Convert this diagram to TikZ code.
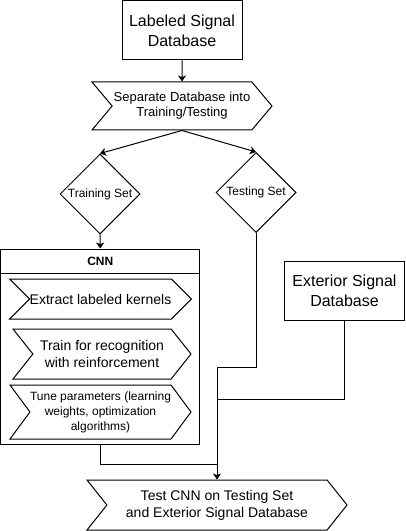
\documentclass[tikz,border=0pt]{standalone}
\usepackage{fontspec}
\setmainfont{Liberation Sans}
\usetikzlibrary{arrows.meta,shapes.geometric,shapes.symbols}

\begin{document}
\begin{tikzpicture}[x=0.75pt,y=0.75pt,yscale=-1,xscale=1,line width=0.75pt,>={Stealth[length=4.5pt,width=6pt,inset=1.2pt]},
  dbbox/.style={draw,rectangle,minimum width=90pt,minimum height=44.25pt,inner sep=0pt,align=center,font=\fontsize{12}{15}\selectfont},
  stepbox/.style={draw,signal,signal from=west,signal to=east,inner sep=0pt,align=center},
  decision/.style={draw,diamond,minimum width=60pt,minimum height=60pt,inner sep=0pt,font=\fontsize{9}{11}\selectfont}]
\useasboundingbox (0,0) rectangle (406,531);

%Shape: Rectangle
\node [dbbox] (lsd) at (182,30.5) {Labeled Signal\\Database};
%Shape: Chevron
\node [stepbox,minimum width=135pt,minimum height=36pt,signal pointer angle=100,font=\fontsize{9.75}{11.25}\selectfont] (sep) at (182,106) {Separate Database into\\Training/Testing};
%Shape: Diamond
\node [decision] (train) at (100,194) {Training Set};
%Shape: Diamond
\node [decision] (test) at (256,192.5) {Testing Set};

%Shape: Rectangle
\node [draw,rectangle,minimum width=149.25pt,minimum height=146.25pt,inner sep=0pt] (cnn) at (100.25,346.5) {};
\node [draw,rectangle,minimum width=149.25pt,minimum height=18pt,inner sep=0pt,font=\fontsize{9}{11}\selectfont\bfseries] (cnnhead) at (100.25,261) {CNN};
%Shape: Chevron
\node [stepbox,minimum width=135.75pt,minimum height=30pt,signal pointer angle=90,font=\fontsize{10.5}{12.75}\selectfont] (extract) at (100.5,299) {Extract labeled kernels};
%Shape: Chevron
\node [stepbox,minimum width=133.5pt,minimum height=37.5pt,signal pointer angle=103,font=\fontsize{10.5}{12.75}\selectfont] (learn) at (102,354) {Train for recognition\\with reinforcement};
%Shape: Chevron
\node [stepbox,minimum width=135.75pt,minimum height=40.5pt,signal pointer angle=107,font=\fontsize{9}{11.25}\selectfont] (tune) at (100.5,412) {Tune parameters (learning\\weights, optimization\\algorithms)};

%Shape: Rectangle
\node [dbbox] (ext) at (344.5,290.5) {Exterior Signal\\Database};
%Shape: Chevron
\node [stepbox,minimum width=195pt,minimum height=37.5pt,signal pointer angle=103,font=\fontsize{10.5}{12.75}\selectfont] (run) at (217,505) {Test CNN on Testing Set\\and Exterior Signal Database};

\coordinate (jtest) at (217,367);
\coordinate (jext) at (217,399);
\coordinate (jcnn) at (217,464);

%Straight Lines
\draw [->] (lsd) -- (sep);
\draw [->] (sep.south) -- (train.north);
\draw [->] (sep.south) -- (test.north);
\draw [->] (train) -- (cnnhead);
\draw [->] (test.south) |- (jtest) -- (run.north);
\draw (ext.south) |- (jext);
\draw (cnn.south) |- (jcnn);

\end{tikzpicture}
\end{document}
